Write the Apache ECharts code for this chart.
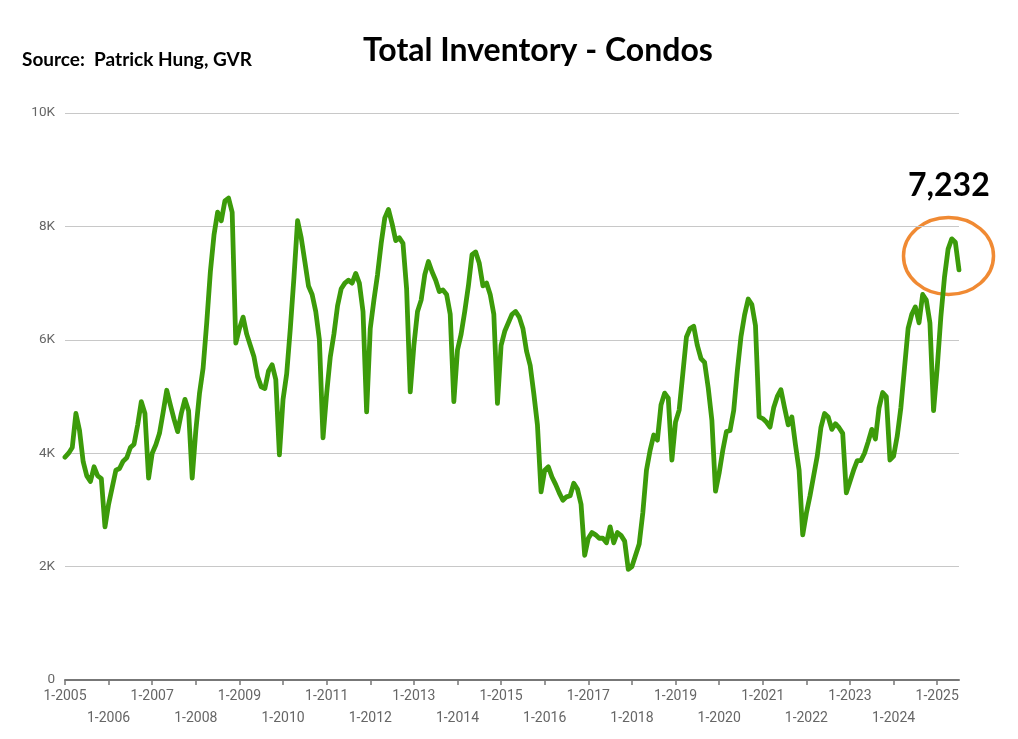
<!DOCTYPE html>
<html>
<head>
<meta charset="utf-8">
<script src="https://cdn.jsdelivr.net/npm/echarts@6/dist/echarts.min.js"></script>
<style>
html,body{margin:0;padding:0;background:#fff;}
#chart{width:1018px;height:739px;}
</style>
</head>
<body>
<div id="chart"></div>
<script>
// Monthly total inventory of condos (thousands), Jan 2005 .. Jul 2025
const startYear = 2005;
const v2005 = [3.93, 4.0, 4.1, 4.7, 4.4, 3.85, 3.6, 3.5, 3.76, 3.6, 3.55, 2.7];
const v2006 = [3.1, 3.4, 3.7, 3.73, 3.86, 3.92, 4.1, 4.16, 4.5, 4.91, 4.7, 3.56];
const v2007 = [4.0, 4.15, 4.35, 4.72, 5.11, 4.85, 4.6, 4.38, 4.7, 4.95, 4.75, 3.56];
const v2008 = [4.4, 5.05, 5.5, 6.3, 7.2, 7.85, 8.25, 8.1, 8.45, 8.5, 8.25, 5.94];
const v2009 = [6.2, 6.4, 6.1, 5.9, 5.7, 5.35, 5.17, 5.14, 5.45, 5.56, 5.3, 3.97];
const v2010 = [4.95, 5.4, 6.2, 7.1, 8.1, 7.8, 7.38, 6.95, 6.8, 6.5, 6.0, 4.27];
const v2011 = [5.05, 5.7, 6.1, 6.6, 6.9, 7.0, 7.05, 7.0, 7.17, 7.0, 6.5, 4.73];
const v2012 = [6.2, 6.7, 7.15, 7.7, 8.15, 8.3, 8.05, 7.75, 7.8, 7.7, 6.9, 5.08];
const v2013 = [5.9, 6.5, 6.7, 7.15, 7.38, 7.2, 7.05, 6.85, 6.88, 6.8, 6.45, 4.91];
const v2014 = [5.82, 6.1, 6.5, 6.95, 7.5, 7.55, 7.35, 6.95, 7.0, 6.8, 6.45, 4.88];
const v2015 = [5.9, 6.15, 6.3, 6.45, 6.5, 6.4, 6.2, 5.8, 5.55, 5.05, 4.5, 3.32];
const v2016 = [3.7, 3.76, 3.58, 3.45, 3.3, 3.17, 3.23, 3.25, 3.47, 3.37, 3.1, 2.2];
const v2017 = [2.5, 2.6, 2.56, 2.5, 2.5, 2.42, 2.7, 2.42, 2.6, 2.55, 2.45, 1.95];
const v2018 = [2.0, 2.2, 2.4, 2.95, 3.7, 4.05, 4.32, 4.23, 4.85, 5.06, 4.97, 3.88];
const v2019 = [4.55, 4.76, 5.4, 6.05, 6.2, 6.24, 5.9, 5.67, 5.6, 5.15, 4.58, 3.33];
const v2020 = [3.65, 4.05, 4.38, 4.4, 4.75, 5.45, 6.05, 6.44, 6.72, 6.62, 6.25, 4.64];
const v2021 = [4.61, 4.55, 4.46, 4.8, 5.0, 5.12, 4.8, 4.5, 4.64, 4.15, 3.7, 2.56];
const v2022 = [2.94, 3.25, 3.6, 3.95, 4.45, 4.7, 4.64, 4.42, 4.52, 4.45, 4.35, 3.3];
const v2023 = [3.5, 3.7, 3.87, 3.87, 4.0, 4.2, 4.42, 4.25, 4.8, 5.07, 5.0, 3.88];
const v2024 = [3.95, 4.3, 4.8, 5.5, 6.2, 6.45, 6.58, 6.3, 6.8, 6.7, 6.3, 4.75];
const v2025 = [5.5, 6.4, 7.1, 7.6, 7.78, 7.72, 7.232];

const yearly = [v2005, v2006, v2007, v2008, v2009, v2010, v2011, v2012, v2013, v2014,
  v2015, v2016, v2017, v2018, v2019, v2020, v2021, v2022, v2023, v2024, v2025];

const yTicks = ['0', '2K', '4K', '6K', '8K', '10K'];
const titleText = 'Total Inventory - Condos';
const sourceText = 'Source:  Patrick Hung, GVR';
const calloutText = '7,232';

const categories = [];
const values = [];
yearly.forEach((arr, yi) => {
  arr.forEach((v, mi) => {
    categories.push((mi + 1) + '-' + (startYear + yi));
    values.push(Math.round(v * 1000));
  });
});

const chart = echarts.init(document.getElementById('chart'), null, {renderer: 'canvas'});
chart.setOption({
  animation: false,
  backgroundColor: '#ffffff',
  grid: {left: 65, right: 59, top: 113, bottom: 59, containLabel: false},
  xAxis: {
    type: 'category',
    data: categories,
    boundaryGap: false,
    axisLine: {show: true, lineStyle: {color: '#777777', width: 2}},
    axisTick: {show: true, interval: (i) => i % 12 === 0, length: 5, lineStyle: {color: '#777777', width: 1.5}},
    axisLabel: {
      interval: (i) => i % 12 === 0,
      color: '#666666',
      fontFamily: 'Roboto',
      fontSize: 14,
      lineHeight: 22,
      margin: 5,
      formatter: (val, idx) => {
        const yi = Math.floor(idx / 12);
        return yi % 2 === 0 ? val : '\n' + val;
      }
    },
    splitLine: {show: false}
  },
  yAxis: {
    type: 'value',
    min: 0,
    max: 10000,
    interval: 2000,
    axisLine: {show: false},
    axisTick: {show: false},
    axisLabel: {
      color: '#666666',
      fontFamily: 'Roboto',
      fontSize: 13.5,
      margin: 10,
      formatter: (v) => yTicks[Math.round(v / 2000)]
    },
    splitLine: {lineStyle: {color: '#c8c8c8', width: 1}}
  },
  series: [{
    type: 'line',
    data: values,
    showSymbol: false,
    symbol: 'none',
    smooth: false,
    lineStyle: {color: '#3c9b0a', width: 4.8, join: 'round', cap: 'round'}
  }],
  graphic: [
    {type: 'text', left: 363, top: 35, style: {text: titleText, font: 'bold 32px Lato', fill: '#000'}},
    {type: 'text', left: 22, top: 50, style: {text: sourceText, font: 'bold 19px Lato', fill: '#000'}},
    {type: 'text', left: 908, top: 170, style: {text: calloutText, font: 'bold 32px Lato', fill: '#000'}},
    {type: 'ellipse', shape: {cx: 948.5, cy: 256, rx: 45, ry: 38.5}, style: {fill: 'none', stroke: '#f08a33', lineWidth: 3.5}}
  ]
});
</script>
</body>
</html>
